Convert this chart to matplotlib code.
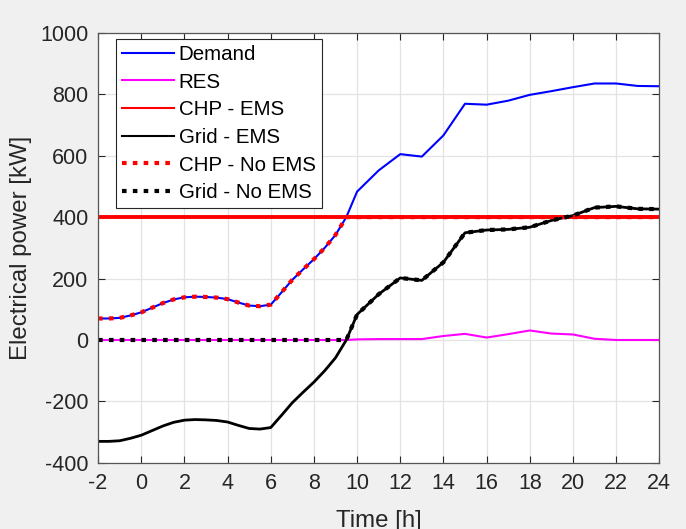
import matplotlib as mpl
import matplotlib.pyplot as plt

mpl.rcParams['font.family'] = ['Liberation Sans', 'DejaVu Sans']
mpl.rcParams['axes.unicode_minus'] = False

# time axis [h]: half-hourly up to 10 h, hourly after
t = [-2, -1.5, -1, -0.5, 0, 0.5, 1, 1.5, 2, 2.5, 3, 3.5, 4, 4.5, 5, 5.5, 6, 6.5, 7, 7.5, 8, 8.5, 9, 9.5,
     10, 11, 12, 13, 14, 15, 16, 17, 18, 19, 20, 21, 22, 23, 24]

demand = [70, 70, 72, 80, 90, 105, 120, 132, 139, 141, 140, 138, 133, 122, 112, 110, 115, 155, 196, 230, 263, 300, 342, 400,
          483, 552, 605, 597, 666, 769, 766, 779, 798, 810, 823, 835, 835, 827, 826]
res = [0, 0, 0, 0, 0, 0, 0, 0, 0, 0, 0, 0, 0, 0, 0, 0, 0, 0, 0, 0, 0, 0, 0, 0,
       2, 3, 3, 3, 13, 20, 8, 19, 31, 21, 18, 4, 0, 0, 0]
chp_ems = [400] * len(t)
grid_ems = [-330, -330, -328, -320, -310, -295, -280, -268, -261, -259, -260, -262, -267, -278, -288, -290, -285, -245, -204, -170, -137, -100, -58, 0,
            83, 149, 202, 194, 253, 349, 358, 360, 367, 389, 405, 431, 435, 427, 426]
chp_noems = [70, 70, 72, 80, 90, 105, 120, 132, 139, 141, 140, 138, 133, 122, 112, 110, 115, 155, 196, 230, 263, 300, 342, 400,
             400, 400, 400, 400, 400, 400, 400, 400, 400, 400, 400, 400, 400, 400, 400]
grid_noems = [0, 0, 0, 0, 0, 0, 0, 0, 0, 0, 0, 0, 0, 0, 0, 0, 0, 0, 0, 0, 0, 0, 0, 0,
              83, 149, 202, 194, 253, 349, 358, 360, 367, 389, 405, 431, 435, 427, 426]

fig = plt.figure(figsize=(6.86, 5.29), dpi=100, facecolor='#f0f0f0')
ax = fig.add_axes([0.143, 0.125, 0.818, 0.813])
ax.set_facecolor('white')

ax.plot(t, demand, color='#0000ff', lw=1.5, label='Demand')
ax.plot(t, res, color='#ff00ff', lw=1.5, label='RES')
ax.plot(t, chp_ems, color='#ff0000', lw=2.8, label='CHP - EMS')
ax.plot(t, grid_ems, color='black', lw=2.0, label='Grid - EMS')
ax.plot(t, chp_noems, color='#ff0000', lw=3, dashes=(1.1, 1.5), dash_capstyle='butt', label='CHP - No EMS')
ax.plot(t, grid_noems, color='black', lw=3, dashes=(1.1, 1.5), dash_capstyle='butt', label='Grid - No EMS')

ax.set_xlim(-2, 24)
ax.set_ylim(-400, 1000)
ax.set_xticks(range(-2, 25, 2))
ax.set_yticks(range(-400, 1001, 200))
ax.grid(True, color='#e3e3e3', lw=0.9)
ax.set_axisbelow(True)
ax.tick_params(direction='in', top=True, right=True, length=5, width=0.8,
               colors='#262626', labelsize=15.5, pad=7)
for s in ax.spines.values():
    s.set_color('#555555')
    s.set_linewidth(0.9)

ax.set_xlabel('Time [h]', fontsize=17.3, color='#262626', labelpad=12)
ax.set_ylabel('Electrical power [kW]', fontsize=17.3, color='#262626', labelpad=6)

leg = ax.legend(loc='upper left', bbox_to_anchor=(0.032, 0.986), borderaxespad=0,
                fontsize=14.8, handlelength=2.5, handletextpad=0.25, labelspacing=0.42,
                borderpad=0.3, fancybox=False, framealpha=1, edgecolor='#262626')
leg.get_frame().set_linewidth(0.8)
for h in leg.get_lines()[:4]:
    h.set_linewidth(1.5)

fig.savefig('out.png', dpi=100, facecolor=fig.get_facecolor())
